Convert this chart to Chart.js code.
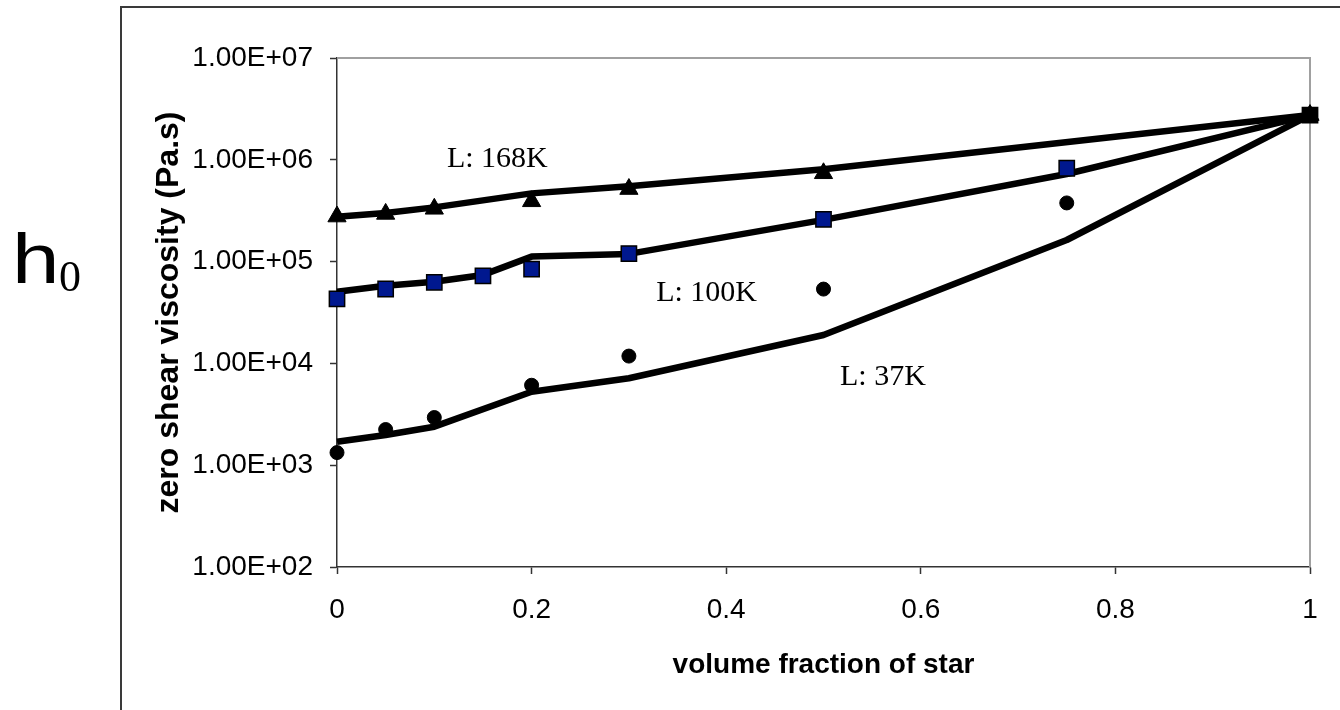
<!DOCTYPE html>
<html><head><meta charset="utf-8">
<script src="https://cdn.jsdelivr.net/npm/chart.js@4.4.1/dist/chart.umd.min.js"></script>
<style>html,body{margin:0;padding:0;background:#fff;} #wrap{width:1340px;height:710px;position:relative;}</style>
</head><body><div id="wrap"><canvas id="c" width="1340" height="710"></canvas></div>
<script>
// ---- data ----
const xFit168 = [0, 0.05, 0.1, 0.2, 0.3, 0.5, 1];
const yFit168 = [2.76e5, 3.0e5, 3.41e5, 4.68e5, 5.5e5, 8.07e5, 2.75e6];
const xTri = [0, 0.05, 0.1, 0.2, 0.3, 0.5, 1];
const yTri168 = [2.77e5, 2.94e5, 3.3e5, 3.91e5, 5.16e5, 7.37e5, 2.75e6];

const xFit100 = [0, 0.05, 0.1, 0.15, 0.2, 0.3, 0.5, 0.75, 1];
const yFit100 = [5.06e4, 5.8e4, 6.35e4, 7.4e4, 1.12e5, 1.19e5, 2.57e5, 7.25e5, 2.75e6];
const xSq = [0, 0.05, 0.1, 0.15, 0.2, 0.3, 0.5, 0.75, 1];
const ySq100 = [4.3e4, 5.38e4, 6.26e4, 7.23e4, 8.45e4, 1.2e5, 2.6e5, 8.26e5, 2.75e6];

const xFit37 = [0, 0.05, 0.1, 0.2, 0.3, 0.5, 0.75, 1];
const yFit37 = [1.7e3, 1.98e3, 2.39e3, 5.27e3, 7.14e3, 1.9e4, 1.63e5, 2.75e6];
const xDot = [0, 0.05, 0.1, 0.2, 0.3, 0.5, 0.75, 1];
const yDot37 = [1.33e3, 2.24e3, 2.94e3, 6.1e3, 1.18e4, 5.37e4, 3.77e5, 2.75e6];

const yTickValues = [1e2, 1e3, 1e4, 1e5, 1e6, 1e7];
const yTickLabels = ['1.00E+02', '1.00E+03', '1.00E+04', '1.00E+05', '1.00E+06', '1.00E+07'];
const xTickValues = [0, 0.2, 0.4, 0.6, 0.8, 1];
const xTickLabels = ['0', '0.2', '0.4', '0.6', '0.8', '1'];

const curveLabels = ['L: 168K', 'L: 100K', 'L: 37K'];
const curveLabelX = [0.113, 0.328, 0.517];
const curveLabelY = [8.5e5, 4.1e4, 6.1e3];

const xTitle = 'volume fraction of star';
const yTitle = 'zero shear viscosity (Pa.s)';
const symbolMain = 'h';
const symbolSub = '0';

// ---- helpers ----
const pts = (xs, ys) => xs.map((x, i) => ({x: x, y: ys[i]}));
const NAVY = '#00188F';

const decor = {
  id: 'decor',
  beforeDraw(chart) {
    const ctx = chart.ctx;
    ctx.save();
    ctx.fillStyle = '#fff';
    ctx.fillRect(0, 0, chart.width, chart.height);
    // outer frame
    ctx.strokeStyle = '#3a3a3a';
    ctx.lineWidth = 2;
    ctx.beginPath();
    ctx.moveTo(121, 712);
    ctx.lineTo(121, 7);
    ctx.lineTo(1342, 7);
    ctx.stroke();
    // eta_0 symbol
    ctx.fillStyle = '#000';
    ctx.textBaseline = 'alphabetic';
    ctx.save();
    ctx.translate(12, 283);
    ctx.scale(1.22, 1);
    ctx.font = '70px "Liberation Sans", Arial, sans-serif';
    ctx.fillText(symbolMain, 0, 0);
    ctx.restore();
    ctx.font = '44px "Liberation Serif", "Times New Roman", serif';
    ctx.fillText(symbolSub, 59, 291);
    ctx.restore();
  },
  beforeDatasetsDraw(chart) {
    const {ctx, chartArea: a} = chart;
    ctx.save();
    ctx.strokeStyle = '#a0a0a0';
    ctx.lineWidth = 2;
    ctx.beginPath();
    ctx.moveTo(a.left, a.top);
    ctx.lineTo(a.right, a.top);
    ctx.lineTo(a.right, a.bottom);
    ctx.stroke();
    ctx.restore();
  },
  afterDatasetsDraw(chart) {
    const ctx = chart.ctx;
    const xs = chart.scales.x, ys = chart.scales.y;
    ctx.save();
    ctx.fillStyle = '#000';
    ctx.textBaseline = 'alphabetic';
    ctx.textAlign = 'left';
    ctx.font = '30px "Liberation Serif", "Times New Roman", serif';
    curveLabels.forEach((t, i) => {
      ctx.fillText(t, xs.getPixelForValue(curveLabelX[i]), ys.getPixelForValue(curveLabelY[i]));
    });
    ctx.restore();
  }
};

const lineDs = (data) => ({
  type: 'line', data, borderColor: '#000', borderWidth: 6.5, pointRadius: 0,
  fill: false, tension: 0, order: 2, clip: false, borderJoinStyle: 'round'
});

new Chart(document.getElementById('c'), {
  type: 'scatter',
  data: {
    datasets: [
      lineDs(pts(xFit168, yFit168)),
      lineDs(pts(xFit100, yFit100)),
      lineDs(pts(xFit37, yFit37)),
      { data: pts(xTri, yTri168), showLine: false, pointStyle: 'triangle', pointRadius: 10.5,
        backgroundColor: '#000', borderColor: '#000', borderWidth: 1, order: 1, clip: false },
      { data: pts(xSq, ySq100), showLine: false, pointStyle: 'rect', pointRadius: 10.8,
        backgroundColor: (c) => (c.raw && c.raw.x === 1) ? '#000' : NAVY,
        borderColor: '#000', borderWidth: 1.5, order: 0, clip: false },
      { data: pts(xDot, yDot37), showLine: false, pointStyle: 'circle', pointRadius: 7,
        backgroundColor: '#000', borderColor: '#000', borderWidth: 1, order: 1, clip: false }
    ]
  },
  options: {
    responsive: false,
    animation: false,
    events: [],
    layout: { padding: { left: 0, right: 30, top: 58, bottom: 0 } },
    plugins: { legend: { display: false }, tooltip: { enabled: false }, title: { display: false } },
    scales: {
      x: {
        type: 'linear', min: 0, max: 1,
        afterBuildTicks: (s) => { s.ticks = xTickValues.map(v => ({value: v})); },
        afterFit: (s) => { s.height = 143; },
        ticks: {
          autoSkip: false, maxRotation: 0, padding: 19, color: '#000',
          font: { family: '"Liberation Sans", Arial, sans-serif', size: 28 },
          callback: (v, i) => xTickLabels[i]
        },
        grid: { drawOnChartArea: false, drawTicks: true, tickLength: 7, tickWidth: 1.5, tickColor: '#333' },
        border: { display: true, color: '#333', width: 1.5 },
        title: {
          display: true, text: xTitle, color: '#000',
          font: { family: '"Liberation Sans", Arial, sans-serif', size: 28, weight: 'bold' },
          padding: { top: 0, bottom: 28 }
        }
      },
      y: {
        type: 'logarithmic', min: 100, max: 1e7,
        afterBuildTicks: (s) => { s.ticks = yTickValues.map(v => ({value: v})); },
        afterFit: (s) => { s.width = 337; },
        ticks: {
          autoSkip: false, padding: 17, color: '#000',
          font: { family: '"Liberation Sans", Arial, sans-serif', size: 28 },
          callback: (v, i) => yTickLabels[i]
        },
        grid: { drawOnChartArea: false, drawTicks: true, tickLength: 7, tickWidth: 1.5, tickColor: '#333' },
        border: { display: true, color: '#333', width: 1.5 },
        title: {
          display: true, text: yTitle, color: '#000',
          font: { family: '"Liberation Sans", Arial, sans-serif', size: 32, weight: 'bold' },
          padding: { top: 150, bottom: 0 }
        }
      }
    }
  },
  plugins: [decor]
});
</script>
</body></html>
